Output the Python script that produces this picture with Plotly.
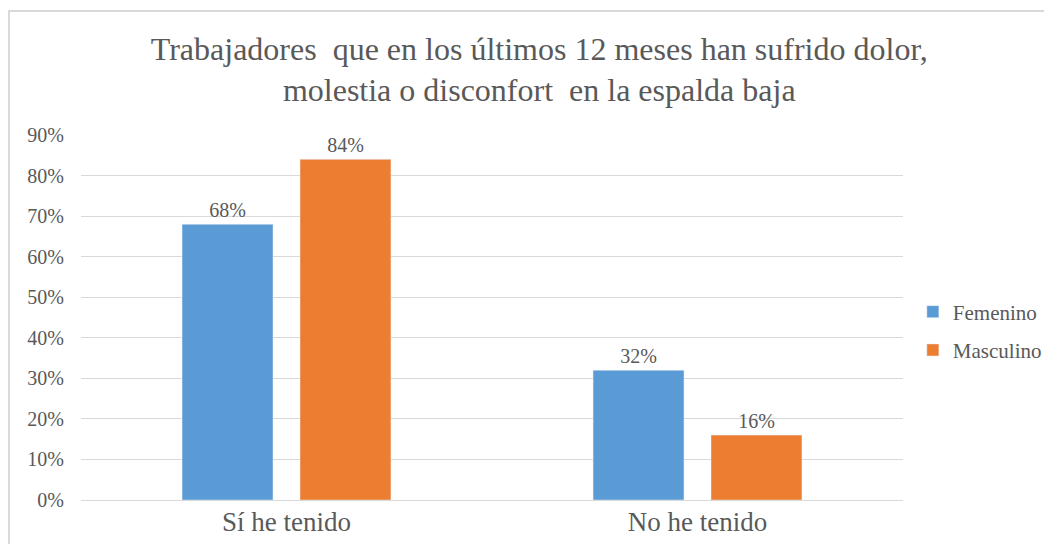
import plotly.graph_objects as go

categories = ["Sí he tenido", "No he tenido"]
femenino = [0.68, 0.32]
masculino = [0.84, 0.16]
y_ticks = [0, 0.1, 0.2, 0.3, 0.4, 0.5, 0.6, 0.7, 0.8, 0.9]
y_tick_labels = ["0%", "10%", "20%", "30%", "40%", "50%", "60%", "70%", "80%", "90%"]
title_text = "Trabajadores  que en los últimos 12 meses han sufrido dolor,<br>molestia o disconfort  en la espalda baja"

FONT = "Liberation Serif"
GRAY = "#595959"

fig = go.Figure()
fig.add_trace(go.Bar(
    name="Femenino", x=categories, y=femenino, marker_color="#5B9BD5",
    legendgroup="f",
    text=[f"{v:.0%}" for v in femenino], textposition="outside",
    textfont=dict(family=FONT, size=20, color=GRAY), cliponaxis=False,
))
fig.add_trace(go.Bar(
    name="Masculino", x=categories, y=masculino, marker_color="#ED7D31",
    legendgroup="m",
    text=[f"{v:.0%}" for v in masculino], textposition="outside",
    textfont=dict(family=FONT, size=20, color=GRAY), cliponaxis=False,
))

fig.update_layout(
    width=1052, height=544,
    margin=dict(l=73, r=157, t=127, b=52, autoexpand=False),
    paper_bgcolor="white", plot_bgcolor="white",
    barmode="group", bargap=0.426, bargroupgap=0.229,
    title=dict(text=title_text, x=0.505, xanchor="center", xref="container",
               y=0.905, yanchor="top",
               font=dict(family=FONT, size=32, color=GRAY)),
    font=dict(family=FONT, size=20, color=GRAY),
    legend=dict(x=1.012, xanchor="left", y=0.463, yanchor="middle",
                font=dict(family=FONT, size=21, color=GRAY),
                traceorder="grouped", tracegroupgap=8, itemwidth=30),
    showlegend=True,
    xaxis=dict(showgrid=False, showline=False, ticks="", automargin=False,
               ticklabelstandoff=3,
               tickfont=dict(family=FONT, size=27, color=GRAY)),
    yaxis=dict(range=[0, 0.9], tickvals=y_ticks, ticktext=y_tick_labels,
               showgrid=True, gridcolor="#d9d9d9", gridwidth=1,
               zeroline=True, zerolinecolor="#d9d9d9", zerolinewidth=1,
               showline=False, ticks="", ticklabelstandoff=16, automargin=False,
               tickfont=dict(family=FONT, size=20, color=GRAY)),
    shapes=[dict(type="rect", xref="paper", yref="paper",
                 x0=-0.0876, x1=1.3, y0=-0.3, y1=1.3397,
                 line=dict(color="#d9d9d9", width=2), layer="below")],
)

fig.write_html("out.html")
